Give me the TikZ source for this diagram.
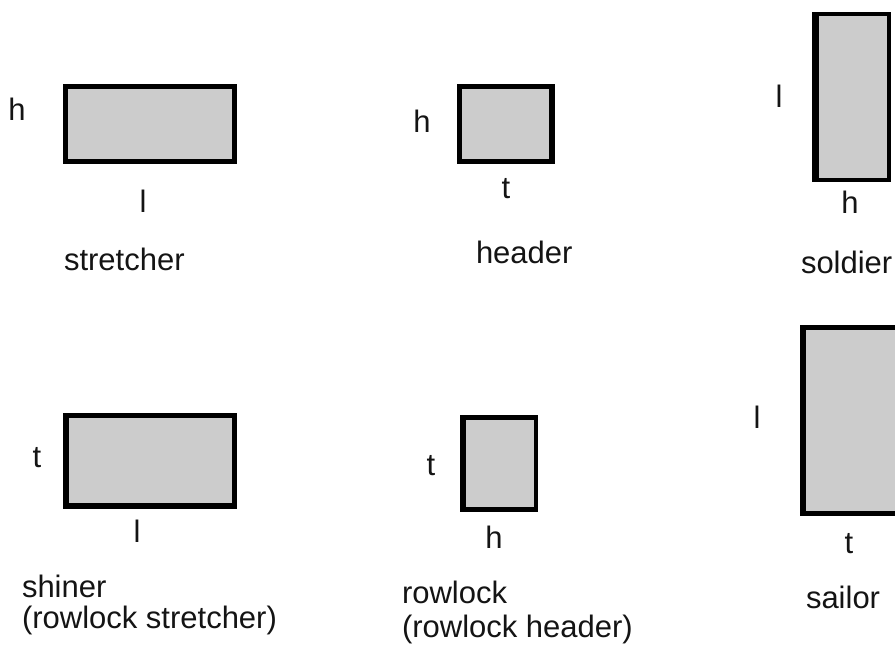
\documentclass[tikz,border=0pt]{standalone}
\usepackage{fontspec}
\setmainfont{Liberation Sans}
\definecolor{brickgray}{RGB}{204,204,204}
\definecolor{inkblack}{RGB}{20,20,20}
\tikzset{
  lbl/.style={inner sep=0pt, outer sep=0pt, text=inkblack, font=\fontsize{31}{34}\selectfont},
  letter/.style={lbl, anchor=base},
  word/.style={lbl, anchor=base west},
  frame/.style={fill=black},
  face/.style={fill=brickgray}
}
\begin{document}
\begin{tikzpicture}[x=1pt,y=-1pt]
\useasboundingbox (0,0) rectangle (895,646);
% stretcher
\fill[frame] (63,84) rectangle (237,164);
\fill[face] (68,89) rectangle (232,159);
\node[letter] (sth) at (17,120) {h};
\node[letter] (stl) at (143,212) {l};
\node[word] (stn) at (64,270) {stretcher};
% header
\fill[frame] (457,84) rectangle (555,164);
\fill[face] (462,89) rectangle (549,159);
\node[letter] (hdh) at (422,132) {h};
\node[letter] (hdt) at (506,198) {t};
\node[word] (hdn) at (476,263) {header};
% soldier
\fill[frame] (812,12) rectangle (891,182);
\fill[face] (819,16) rectangle (887,178);
\node[letter] (sol) at (779,107) {l};
\node[letter] (soh) at (850,213) {h};
\node[word] (son) at (801,273) {soldier};
% shiner
\fill[frame] (63,413) rectangle (237,509);
\fill[face] (69,418) rectangle (232,503);
\node[letter] (sht) at (37,467) {t};
\node[letter] (shl) at (137,542) {l};
\node[word] (shn) at (22,597) {shiner};
\node[word] (shn2) at (22,628) {(rowlock stretcher)};
% rowlock
\fill[frame] (460,415) rectangle (538,512);
\fill[face] (466,420) rectangle (534,507);
\node[letter] (rlt) at (431,475) {t};
\node[letter] (rlh) at (494,548) {h};
\node[word] (rln) at (402,603) {rowlock};
\node[word] (rln2) at (402,637) {(rowlock header)};
% sailor
\fill[frame] (800,325) rectangle (895,516);
\fill[face] (806,330) rectangle (895,511);
\node[letter] (sal) at (757,428) {l};
\node[letter] (sat) at (849,553) {t};
\node[word] (san) at (806,608) {sailor};
\end{tikzpicture}
\end{document}
